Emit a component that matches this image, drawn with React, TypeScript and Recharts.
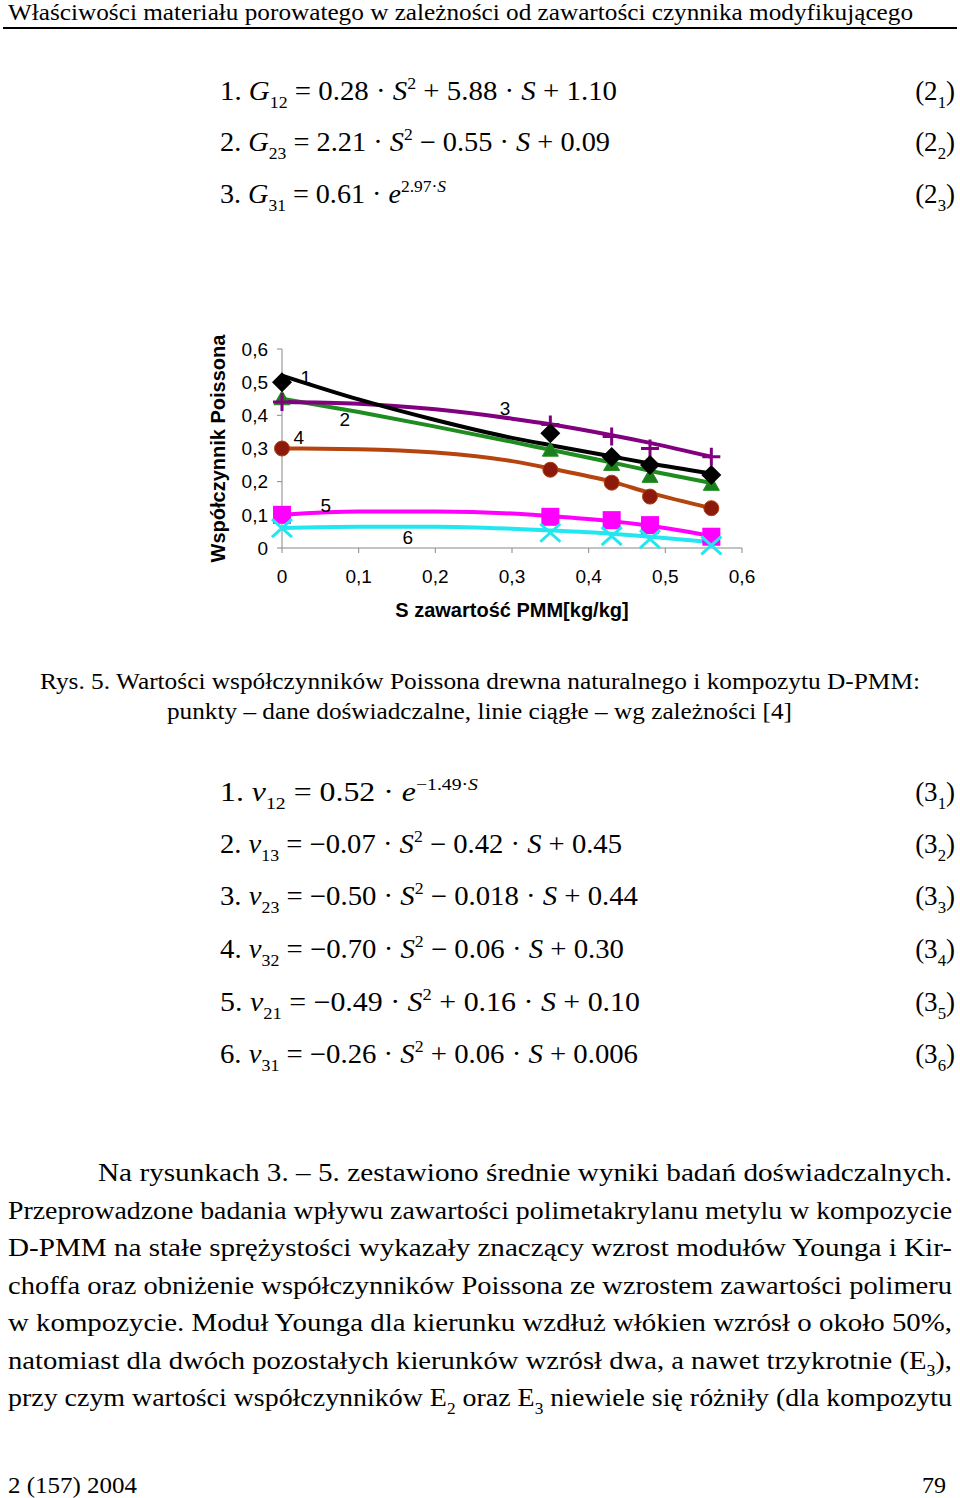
import React from "react";
import { ComposedChart, Line, Scatter, XAxis, YAxis, ReferenceDot } from "recharts";

// measured S values (points) and S values where the fitted curves were read
const sPoints = [0, 0.35, 0.43, 0.48, 0.56];
const sCurve = [0, 0.1, 0.2, 0.3, 0.35, 0.43, 0.48, 0.56];

// experimental points
const nu12Pts = [0.5, 0.346, 0.274, 0.25, 0.22];
const nu13Pts = [0.45, 0.295, 0.252, 0.216, 0.192];
const nu23Pts = [0.44, 0.372, 0.336, 0.3, 0.275];
const nu32Pts = [0.3, 0.236, 0.197, 0.155, 0.12];
const nu21Pts = [0.1, 0.094, 0.084, 0.069, 0.034];
const nu31Pts = [0.06, 0.046, 0.036, 0.027, 0.008];

// fitted curves
const nu12Line = [0.52, 0.448, 0.386, 0.332, 0.31, 0.276, 0.255, 0.225];
const nu13Line = [0.45, 0.41, 0.366, 0.32, 0.296, 0.258, 0.233, 0.196];
const nu23Line = [0.44, 0.435, 0.418, 0.39, 0.373, 0.34, 0.317, 0.275];
const nu32Line = [0.3, 0.298, 0.288, 0.262, 0.24, 0.2, 0.166, 0.12];
const nu21Line = [0.1, 0.11, 0.11, 0.104, 0.096, 0.081, 0.067, 0.036];
const nu31Line = [0.06, 0.064, 0.064, 0.058, 0.053, 0.043, 0.034, 0.018];

const xTicks = [0, 0.1, 0.2, 0.3, 0.4, 0.5, 0.6];
const yTicks = [0, 0.1, 0.2, 0.3, 0.4, 0.5, 0.6];

// curve number labels
const curveLabels = [
  { n: "1", s: 0.031, v: 0.515 },
  { n: "2", s: 0.082, v: 0.386 },
  { n: "3", s: 0.291, v: 0.422 },
  { n: "4", s: 0.022, v: 0.334 },
  { n: "5", s: 0.057, v: 0.127 },
  { n: "6", s: 0.164, v: 0.033 },
];

const pts = (vals: number[]) => sPoints.map((s, i) => ({ s, v: vals[i] }));
const crv = (vals: number[]) => sCurve.map((s, i) => ({ s, v: vals[i] }));
const fmt = (v: number) => (v === 0 ? "0" : v.toFixed(1).replace(".", ","));

const SANS = "'Liberation Sans', Arial, sans-serif";
const SERIF = "'Liberation Serif', 'Times New Roman', serif";

const Diamond = (p: any) => {
  const { cx, cy } = p;
  return <polygon points={`${cx},${cy - 10} ${cx + 10},${cy} ${cx},${cy + 10} ${cx - 10},${cy}`} fill="#000" />;
};
const Tri = (p: any) => {
  const { cx, cy } = p;
  return <polygon points={`${cx},${cy - 8} ${cx + 8},${cy + 6} ${cx - 8},${cy + 6}`} fill="#1a7f1a" stroke="#1e8c1e" />;
};
const Plus = (p: any) => {
  const { cx, cy } = p;
  return <path d={`M${cx - 9},${cy}H${cx + 9}M${cx},${cy - 9}V${cy + 9}`} stroke="#800080" strokeWidth={3} />;
};
const Dot = (p: any) => {
  const { cx, cy } = p;
  return <circle cx={cx} cy={cy} r={7.5} fill="#8b1a0a" stroke="#b0400e" strokeWidth={1} />;
};
const Sq = (p: any) => {
  const { cx, cy } = p;
  return <rect x={cx - 9} y={cy - 9} width={18} height={18} fill="#ff00ff" />;
};
const Ex = (p: any) => {
  const { cx, cy } = p;
  return <path d={`M${cx - 10},${cy - 9}L${cx + 10},${cy + 9}M${cx + 10},${cy - 9}L${cx - 10},${cy + 9}`} stroke="#22e6f0" strokeWidth={3} />;
};

type Seg = { t: string; i?: boolean; s?: "sub" | "sup" };

function Rich({ x, y, w, size, segs, anchor }: { x: number; y: number; w?: number; size: number; segs: Seg[]; anchor?: string }) {
  let shift = 0;
  return (
    <text x={x} y={y} fontFamily={SERIF} fontSize={size} textLength={w} lengthAdjust="spacingAndGlyphs" textAnchor={anchor as any} fill="#000">
      {segs.map((g, k) => {
        const target = g.s === "sub" ? size * 0.3 : g.s === "sup" ? -size * 0.42 : 0;
        const dy = target - shift;
        shift = target;
        return (
          <tspan key={k} dy={dy || undefined} fontStyle={g.i ? "italic" : undefined} fontSize={g.s ? size * 0.62 : undefined}>
            {g.t}
          </tspan>
        );
      })}
    </text>
  );
}

const eqG: { segs: Seg[]; w: number; y: number; tag: string }[] = [
  { y: 100, w: 397, tag: "1", segs: [{ t: "1. " }, { t: "G", i: true }, { t: "12", s: "sub" }, { t: " = 0.28 · " }, { t: "S", i: true }, { t: "2", s: "sup" }, { t: " + 5.88 · " }, { t: "S", i: true }, { t: " + 1.10" }] },
  { y: 151, w: 390, tag: "2", segs: [{ t: "2. " }, { t: "G", i: true }, { t: "23", s: "sub" }, { t: " = 2.21 · " }, { t: "S", i: true }, { t: "2", s: "sup" }, { t: " − 0.55 · " }, { t: "S", i: true }, { t: " + 0.09" }] },
  { y: 203, w: 226, tag: "3", segs: [{ t: "3. " }, { t: "G", i: true }, { t: "31", s: "sub" }, { t: " = 0.61 · " }, { t: "e", i: true }, { t: "2.97·", s: "sup" }, { t: "S", i: true, s: "sup" }] },
];

const eqNu: { segs: Seg[]; w: number; y: number; tag: string }[] = [
  { y: 801, w: 258, tag: "1", segs: [{ t: "1. " }, { t: "ν", i: true }, { t: "12", s: "sub" }, { t: " = 0.52 · " }, { t: "e", i: true }, { t: "−1.49·", s: "sup" }, { t: "S", i: true, s: "sup" }] },
  { y: 853, w: 402, tag: "2", segs: [{ t: "2. " }, { t: "ν", i: true }, { t: "13", s: "sub" }, { t: " = −0.07 · " }, { t: "S", i: true }, { t: "2", s: "sup" }, { t: " − 0.42 · " }, { t: "S", i: true }, { t: " + 0.45" }] },
  { y: 905, w: 418, tag: "3", segs: [{ t: "3. " }, { t: "ν", i: true }, { t: "23", s: "sub" }, { t: " = −0.50 · " }, { t: "S", i: true }, { t: "2", s: "sup" }, { t: " − 0.018 · " }, { t: "S", i: true }, { t: " + 0.44" }] },
  { y: 958, w: 404, tag: "4", segs: [{ t: "4. " }, { t: "ν", i: true }, { t: "32", s: "sub" }, { t: " = −0.70 · " }, { t: "S", i: true }, { t: "2", s: "sup" }, { t: " − 0.06 · " }, { t: "S", i: true }, { t: " + 0.30" }] },
  { y: 1011, w: 420, tag: "5", segs: [{ t: "5. " }, { t: "ν", i: true }, { t: "21", s: "sub" }, { t: " = −0.49 · " }, { t: "S", i: true }, { t: "2", s: "sup" }, { t: " + 0.16 · " }, { t: "S", i: true }, { t: " + 0.10" }] },
  { y: 1063, w: 418, tag: "6", segs: [{ t: "6. " }, { t: "ν", i: true }, { t: "31", s: "sub" }, { t: " = −0.26 · " }, { t: "S", i: true }, { t: "2", s: "sup" }, { t: " + 0.06 · " }, { t: "S", i: true }, { t: " + 0.006" }] },
];

const para: { x: number; segs: Seg[] }[] = [
  { x: 98, segs: [{ t: "Na rysunkach 3. – 5. zestawiono średnie wyniki badań doświadczalnych." }] },
  { x: 8, segs: [{ t: "Przeprowadzone badania wpływu zawartości polimetakrylanu metylu w kompozycie" }] },
  { x: 8, segs: [{ t: "D-PMM na stałe sprężystości wykazały znaczący wzrost modułów Younga i Kir-" }] },
  { x: 8, segs: [{ t: "choffa oraz obniżenie współczynników Poissona ze wzrostem zawartości polimeru" }] },
  { x: 8, segs: [{ t: "w kompozycie. Moduł Younga dla kierunku wzdłuż włókien wzrósł o około 50%," }] },
  { x: 8, segs: [{ t: "natomiast dla dwóch pozostałych kierunków wzrósł dwa, a nawet trzykrotnie (E" }, { t: "3", s: "sub" }, { t: ")," }] },
  { x: 8, segs: [{ t: "przy czym wartości współczynników E" }, { t: "2", s: "sub" }, { t: " oraz E" }, { t: "3", s: "sub" }, { t: " niewiele się różniły (dla kompozytu" }] },
];

function PoissonChart() {
  const series = [
    { line: nu32Line, pts: nu32Pts, color: "#b5440f", shape: Dot },
    { line: nu21Line, pts: nu21Pts, color: "#ff00ff", shape: Sq },
    { line: nu31Line, pts: nu31Pts, color: "#22e6f0", shape: Ex },
    { line: nu13Line, pts: nu13Pts, color: "#1e8c1e", shape: Tri },
    { line: nu23Line, pts: nu23Pts, color: "#800080", shape: Plus },
    { line: nu12Line, pts: nu12Pts, color: "#000000", shape: Diamond },
  ];
  return (
    <ComposedChart width={580} height={310} margin={{ top: 19, right: 38, bottom: 62, left: 0 }}>
      <XAxis
        type="number"
        dataKey="s"
        domain={[0, 0.6]}
        ticks={xTicks}
        tickFormatter={fmt}
        height={30}
        stroke="#888"
        tickSize={5}
        tickMargin={17}
        tick={{ fill: "#000", fontSize: 19, fontFamily: SANS }}
        label={{
          value: "S zawartość PMM[kg/kg]",
          position: "bottom",
          offset: 25,
          style: { fill: "#000", fontSize: 20, fontWeight: "bold", fontFamily: SANS },
        }}
      />
      <YAxis
        type="number"
        domain={[0, 0.6]}
        ticks={yTicks}
        tickFormatter={fmt}
        width={82}
        stroke="#888"
        tickSize={5}
        tickMargin={9}
        tick={{ fill: "#000", fontSize: 19, fontFamily: SANS }}
        label={{
          content: (props: any) => {
            const vb = props.viewBox;
            const cx = vb.x + 18;
            const cy = vb.y + vb.height / 2;
            return (
              <text x={cx} y={cy} transform={`rotate(-90 ${cx} ${cy})`} textAnchor="middle" dominantBaseline="central" fontFamily={SANS} fontSize={20} fontWeight="bold" fill="#000">
                Współczynnik Poissona
              </text>
            );
          },
        }}
      />
      {series.map((sr, k) => (
        <Line key={"l" + k} data={crv(sr.line)} dataKey="v" type="monotone" stroke={sr.color} strokeWidth={4} dot={false} activeDot={false} isAnimationActive={false} />
      ))}
      {series.map((sr, k) => (
        <Scatter key={"p" + k} data={pts(sr.pts)} dataKey="v" shape={sr.shape} isAnimationActive={false} />
      ))}
      {curveLabels.map((c) => (
        <ReferenceDot
          key={c.n}
          x={c.s}
          y={c.v}
          r={0}
          shape={(p: any) => (
            <text x={p.cx} y={p.cy} textAnchor="middle" dominantBaseline="central" fontFamily={SANS} fontSize={19} fill="#000">
              {c.n}
            </text>
          )}
        />
      ))}
    </ComposedChart>
  );
}

export default function App() {
  return (
    <div style={{ position: "absolute", left: 0, top: 0, width: 960, height: 1498, background: "#fff" }}>
      <svg width={960} height={1498} style={{ position: "absolute", left: 0, top: 0 }}>
        <Rich x={8} y={20} w={905} size={24} segs={[{ t: "Właściwości materiału porowatego w zależności od zawartości czynnika modyfikującego" }]} />
        <rect x={3} y={27} width={954} height={2} fill="#000" />
        {eqG.map((e) => (
          <g key={"g" + e.tag}>
            <Rich x={220} y={e.y} w={e.w} size={27} segs={e.segs} />
            <Rich x={955} y={e.y} size={27} anchor="end" segs={[{ t: "(2" }, { t: e.tag, s: "sub" }, { t: ")" }]} />
          </g>
        ))}
        <Rich x={40} y={689} w={880} size={24} segs={[{ t: "Rys. 5. Wartości współczynników Poissona drewna naturalnego i kompozytu D-PMM:" }]} />
        <Rich x={167} y={719} w={625} size={24} segs={[{ t: "punkty – dane doświadczalne, linie ciągłe – wg zależności [4]" }]} />
        {eqNu.map((e) => (
          <g key={"n" + e.tag}>
            <Rich x={220} y={e.y} w={e.w} size={27} segs={e.segs} />
            <Rich x={955} y={e.y} size={27} anchor="end" segs={[{ t: "(3" }, { t: e.tag, s: "sub" }, { t: ")" }]} />
          </g>
        ))}
        {para.map((p, k) => (
          <Rich key={"p" + k} x={p.x} y={1181 + k * 37.5} w={952 - p.x} size={26} segs={p.segs} />
        ))}
        <Rich x={8} y={1493} w={129} size={24} segs={[{ t: "2 (157) 2004" }]} />
        <Rich x={946} y={1493} size={24} anchor="end" segs={[{ t: "79" }]} />
      </svg>
      <div style={{ position: "absolute", left: 200, top: 330, width: 580, height: 310 }}>
        <PoissonChart />
      </div>
    </div>
  );
}
